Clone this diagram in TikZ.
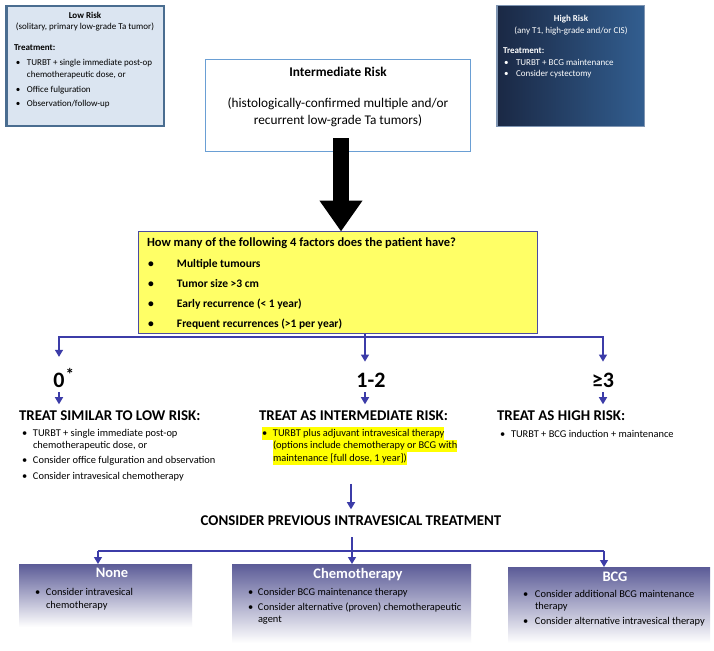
\documentclass[tikz,border=0pt]{standalone}
\usepackage{fontspec}
\setmainfont{Carlito}
\usetikzlibrary{arrows.meta}
\definecolor{lowfill}{HTML}{DBE5F1}
\definecolor{lowdraw}{HTML}{4A6D90}
\definecolor{hileft}{HTML}{1A2844}
\definecolor{hiright}{HTML}{325E90}
\definecolor{hidraw}{HTML}{7F95B2}
\definecolor{interdraw}{HTML}{6A9FD4}
\definecolor{qfill}{HTML}{FFFF66}
\definecolor{qdraw}{HTML}{4B4BA0}
\definecolor{connblue}{HTML}{3C3CA8}
\definecolor{hlyellow}{HTML}{FFFF00}
\definecolor{boxtop}{HTML}{5B5B97}
\newcommand\hlt[1]{{\setlength\fboxsep{0pt}\colorbox{hlyellow}{\rule[-3.75pt]{0pt}{12.5pt}#1}}}
\newcommand\bul[1][11pt]{\makebox[#1][l]{\textbullet}}
\newcommand\ind[1][11pt]{\hspace*{#1}}
\begin{document}
\begin{tikzpicture}[x=1pt,y=-1pt,
  every node/.style={inner sep=0pt,outer sep=0pt},
  conn/.style={draw=connblue,line width=1.3pt},
  arr/.style={conn,-{Triangle[width=8pt,length=7pt]}},
  bigarr/.style={line width=16pt,-{Triangle[width=41pt,length=31pt]}},
  smalltxt/.style={font=\fontsize{9}{12}\selectfont},
  smallbold/.style={font=\fontsize{9}{12}\selectfont\bfseries},
  bodytxt/.style={font=\fontsize{10.4}{12}\selectfont},
  headtxt/.style={font=\fontsize{14.9}{17}\selectfont\bfseries},
  digit/.style={font=\fontsize{22}{24}\selectfont\bfseries},
  lowerbox/.style={top color=boxtop,bottom color=white,draw=none},
  boxhead/.style={font=\fontsize{14.5}{17}\selectfont\bfseries,text=white}
]
\fill[white] (0,0) rectangle (714,650);
\useasboundingbox (0,0) rectangle (714,650);

% ---------- Low risk box
\node[draw=lowdraw,line width=2.5pt,fill=lowfill,minimum width=157.5pt,minimum height=119.5pt] (low) at (85,66) {};
\node[smallbold,anchor=base] (lowt) at (85,18.6) {Low Risk};
\node[smalltxt,anchor=base] (lows) at (85,29.6) {(solitary, primary low-grade Ta tumor)};
\node[smallbold,anchor=base west] (lowtr) at (14,50.6) {Treatment:};
\node[smalltxt,anchor=north west] (lowl) at (16,57.2) {\begin{tabular}{@{}l@{}}
\bul TURBT + single immediate post-op\\
\ind chemotherapeutic dose, or\\[3pt]
\bul Office fulguration\\[2pt]
\bul Observation/follow-up
\end{tabular}};

% ---------- High risk box
\node[draw=hidraw,line width=1.5pt,left color=hileft,right color=hiright,minimum width=147.5pt,minimum height=120.5pt] (high) at (570.5,66) {};
\node[smallbold,text=white,anchor=base] (hight) at (571,21.6) {High Risk};
\node[smalltxt,text=white,anchor=base] (highs) at (571,33.6) {(any T1, high-grade and/or CIS)};
\node[smallbold,text=white,anchor=base west] (hightr) at (503,53.6) {Treatment:};
\node[font=\fontsize{9}{11}\selectfont,text=white,anchor=north west] (highl) at (504,57.9) {\begin{tabular}{@{}l@{}}
\bul[12pt]TURBT + BCG maintenance\\
\bul[12pt]Consider cystectomy
\end{tabular}};

% ---------- Intermediate risk box
\node[draw=interdraw,line width=0.9pt,fill=white,minimum width=265pt,minimum height=92pt] (inter) at (338,105.5) {};
\node[font=\fontsize{13.3}{17}\selectfont\bfseries,anchor=base] (intert) at (338,76.7) {Intermediate Risk};
\node[font=\fontsize{13.3}{17}\selectfont,align=center,anchor=base] (inters) at (338,124.7) {(histologically-confirmed multiple and/or\\recurrent low-grade Ta tumors)};

% ---------- Question box
\node[draw=qdraw,line width=0.9pt,fill=qfill,minimum width=399pt,minimum height=102pt] (q) at (338,282.5) {};
\coordinate (bas) at (341,138);
\draw[bigarr] (bas) -- (bas |- q.north);
\node[font=\fontsize{12.5}{15}\selectfont\bfseries,anchor=base west] (qt) at (147,246.7) {How many of the following 4 factors does the patient have?};
\node[font=\fontsize{11.5}{20}\selectfont\bfseries,anchor=north west] (ql) at (148,253.5) {\begin{tabular}{@{}l@{}}
\bul[29pt]Multiple tumours\\
\bul[29pt]Tumor size >3 cm\\
\bul[29pt]Early recurrence (< 1 year)\\
\bul[29pt]Frequent recurrences (>1 per year)
\end{tabular}};

% ---------- counts
\node[digit,anchor=base] (n0) at (59,387) {0\rlap{\raisebox{7pt}{\fontsize{17}{17}\selectfont\bfseries\kern1pt*}}};
\node[digit,anchor=base] (n12) at (371,387) {1-2};
\node[digit,anchor=base] (n3) at (603,387) {≥3};

\coordinate (split) at (365,337);
\draw[conn] (q.south -| split) -- (split);
\draw[arr,shorten >=11pt] (split) -| (n0.north);
\draw[arr,shorten >=11pt] (split) -- (split |- n12.north);
\draw[arr,shorten >=11pt] (split) -| (n3.north);

% ---------- treatment headings
\node[headtxt,anchor=base west] (h0) at (19,420) {TREAT SIMILAR TO LOW RISK:};
\node[headtxt,anchor=base west] (h12) at (259,420) {TREAT AS INTERMEDIATE RISK:};
\node[headtxt,anchor=base west] (h3) at (497,420) {TREAT AS HIGH RISK:};
\draw[arr,shorten <=5pt,shorten >=6pt] (n0.south) -- (n0.south |- h0.north);
\draw[arr,shorten <=5pt,shorten >=6pt] (split |- n12.south) -- (split |- h12.north);
\draw[arr,shorten <=5pt,shorten >=6pt] (n3.south) -- (n3.south |- h3.north);

\node[bodytxt,anchor=north west] (l0) at (22,427.6) {\begin{tabular}{@{}l@{}}
\bul TURBT + single immediate post-op\\
\ind chemotherapeutic dose, or\\[3pt]
\bul Consider office fulguration and observation\\[4pt]
\bul Consider intravesical chemotherapy
\end{tabular}};
\node[font=\fontsize{10.4}{12.5}\selectfont,anchor=north west] (l12) at (262,427.25) {\begin{tabular}{@{}l@{}}
\hlt{\bul TURBT plus adjuvant intravesical therapy}\\
\ind\hlt{(options include chemotherapy or BCG with}\\
\ind\hlt{maintenance [full dose, 1 year])}
\end{tabular}};
\node[bodytxt,anchor=north west] (l3) at (500,428.6) {\begin{tabular}{@{}l@{}}
\bul TURBT + BCG induction + maintenance
\end{tabular}};

% ---------- previous treatment
\node[headtxt,anchor=base] (ct) at (351,525) {CONSIDER PREVIOUS INTRAVESICAL TREATMENT};
\draw[arr,shorten <=19pt,shorten >=6pt] (ct.north |- l12.south) -- (ct.north);

\node[lowerbox,minimum width=173pt,minimum height=63pt] (bnone) at (105.5,595.5) {};
\node[lowerbox,minimum width=239pt,minimum height=79pt] (bchem) at (351.5,603.5) {};
\node[lowerbox,minimum width=202pt,minimum height=76pt] (bbcg) at (609,605) {};

\coordinate (split2) at (352,551);
\coordinate (jn) at (98,551);
\coordinate (jb) at (604,551);
\draw[conn,shorten <=12pt] (ct.south -| split2) -- (split2);
\draw[conn] (jn) -- (jb);
\draw[arr] (jn) -- (jn |- bnone.north);
\draw[arr] (split2) -- (split2 |- bchem.north);
\draw[arr] (jb) -- (jb |- bbcg.north);

\node[boxhead,anchor=base] (tnone) at (112,577.6) {None};
\node[boxhead,anchor=base] (tchem) at (358,578) {Chemotherapy};
\node[boxhead,anchor=base] (tbcg) at (615,581.6) {BCG};

\node[font=\fontsize{10.4}{13}\selectfont,anchor=north west] (lnone) at (35,585.9) {\begin{tabular}{@{}l@{}}
\bul Consider intravesical\\
\ind chemotherapy
\end{tabular}};
\node[font=\fontsize{10.4}{12.5}\selectfont,anchor=north west] (lchem) at (248,586.25) {\begin{tabular}{@{}l@{}}
\bul[10pt]Consider BCG maintenance therapy\\[2.5pt]
\bul[10pt]Consider alternative (proven) chemotherapeutic\\
\ind[10pt]agent
\end{tabular}};
\node[font=\fontsize{10.4}{12.5}\selectfont,anchor=north west] (lbcg) at (523,588.25) {\begin{tabular}{@{}l@{}}
\bul[12pt]Consider additional BCG maintenance\\
\ind[12pt]therapy\\[2.5pt]
\bul[12pt]Consider alternative intravesical therapy
\end{tabular}};
\end{tikzpicture}
\end{document}
